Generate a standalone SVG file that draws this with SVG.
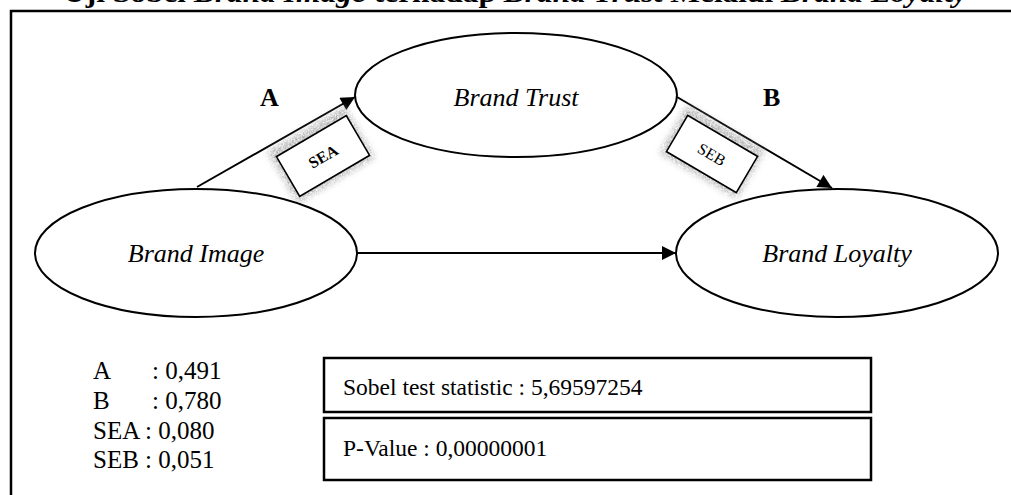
<svg xmlns="http://www.w3.org/2000/svg" width="1011" height="495" viewBox="0 0 1011 495">
  <style>
    .node { fill: #fff; stroke: #000; stroke-width: 2; }
    .node-label { font-family: "Liberation Serif", "Times New Roman", serif; font-style: italic; font-size: 26px; text-anchor: middle; fill: #000; }
    .path-label { font-family: "Liberation Serif", "Times New Roman", serif; font-weight: bold; font-size: 26px; fill: #000; }
    .conn { stroke: #000; stroke-width: 2; fill: none; marker-end: url(#arrow); }
    .se-box { fill: #fff; stroke: #000; stroke-width: 1.6; }
    .se-halo { fill: #9a9a9a; }
    .se-text { font-family: "Liberation Serif", "Times New Roman", serif; font-size: 16px; text-anchor: middle; fill: #000; }
    .stat { font-family: "Liberation Serif", "Times New Roman", serif; font-size: 25px; fill: #000; }
    .result { font-family: "Liberation Serif", "Times New Roman", serif; font-size: 23.5px; fill: #000; }
    .stat-box { fill: #fff; stroke: #000; stroke-width: 2.5; }
    .title { font-family: "Liberation Serif", "Times New Roman", serif; font-weight: bold; font-size: 28px; fill: #000; }
  </style>
  <defs>
    <marker id="arrow" viewBox="0 0 10 10" refX="10" refY="5" markerWidth="8" markerHeight="7" markerUnits="strokeWidth" orient="auto">
      <path d="M0,0 L10,5 L0,10 Z" fill="#000"/>
    </marker>
    <!-- speckled soft shadow behind the standard-error tags -->
    <filter id="grain" x="-40%" y="-60%" width="180%" height="220%">
      <feGaussianBlur in="SourceGraphic" stdDeviation="3" result="soft"/>
      <feTurbulence type="fractalNoise" baseFrequency="1.2" numOctaves="2" seed="5" result="noise"/>
      <feColorMatrix in="noise" type="matrix" values="0 0 0 0 0  0 0 0 0 0  0 0 0 0 0  0 0 0 -2.2 1.6" result="mask"/>
      <feComposite in="soft" in2="mask" operator="in"/>
    </filter>
  </defs>

  <rect width="1011" height="495" fill="#fff"/>

  <!-- heading, cut by the top edge -->
  <text class="title" x="63" y="2" textLength="904" lengthAdjust="spacingAndGlyphs">Uji Sobel <tspan font-style="italic">Brand Image</tspan> terhadap <tspan font-style="italic">Brand Trust</tspan> Melalui <tspan font-style="italic">Brand Loyalty</tspan></text>

  <!-- outer frame -->
  <rect x="11" y="11" width="1020" height="500" fill="none" stroke="#000" stroke-width="2.5"/>

  <!-- connectors -->
  <g id="connectors">
    <line class="conn" x1="197" y1="187" x2="355" y2="97"/>
    <line class="conn" x1="677" y1="97" x2="832" y2="188"/>
    <line class="conn" x1="357" y1="253" x2="676" y2="253"/>
  </g>

  <!-- path labels -->
  <text class="path-label" x="260" y="106">A</text>
  <text class="path-label" x="763" y="106">B</text>

  <!-- standard error tags -->
  <g id="tag-sea" transform="translate(323,156) rotate(-30.4)">
    <rect class="se-halo" x="-46" y="-32" width="90" height="60" filter="url(#grain)"/>
    <rect class="se-box" x="-40.5" y="-23" width="81" height="46"/>
    <text class="se-text" x="0" y="6" font-weight="bold">SEA</text>
  </g>
  <g id="tag-seb" transform="translate(712,154) rotate(30.4)">
    <rect class="se-halo" x="-46" y="-30" width="90" height="56" filter="url(#grain)"/>
    <rect class="se-box" x="-40.5" y="-21" width="81" height="42"/>
    <text class="se-text" x="0" y="6">SEB</text>
  </g>

  <!-- nodes -->
  <g id="node-brand-trust">
    <ellipse class="node" cx="516" cy="95" rx="161" ry="62"/>
    <text class="node-label" x="516" y="106">Brand Trust</text>
  </g>
  <g id="node-brand-image">
    <ellipse class="node" cx="196" cy="253" rx="161" ry="64"/>
    <text class="node-label" x="196" y="262">Brand Image</text>
  </g>
  <g id="node-brand-loyalty">
    <ellipse class="node" cx="837" cy="253" rx="161" ry="64"/>
    <text class="node-label" x="837" y="262">Brand Loyalty</text>
  </g>

  <!-- coefficients -->
  <g id="coefficients">
    <text class="stat" x="93" y="379">A</text>
    <text class="stat" x="152" y="379">: 0,491</text>
    <text class="stat" x="93" y="409">B</text>
    <text class="stat" x="152" y="409">: 0,780</text>
    <text class="stat" x="93" y="439">SEA : 0,080</text>
    <text class="stat" x="93" y="468">SEB : 0,051</text>
  </g>

  <!-- test results -->
  <g id="sobel-statistic">
    <rect class="stat-box" x="324" y="358" width="547" height="54"/>
    <text class="result" x="343" y="395">Sobel test statistic : 5,69597254</text>
  </g>
  <g id="p-value">
    <rect class="stat-box" x="324" y="418" width="547" height="62"/>
    <text class="result" x="343" y="456">P-Value : 0,00000001</text>
  </g>
</svg>
